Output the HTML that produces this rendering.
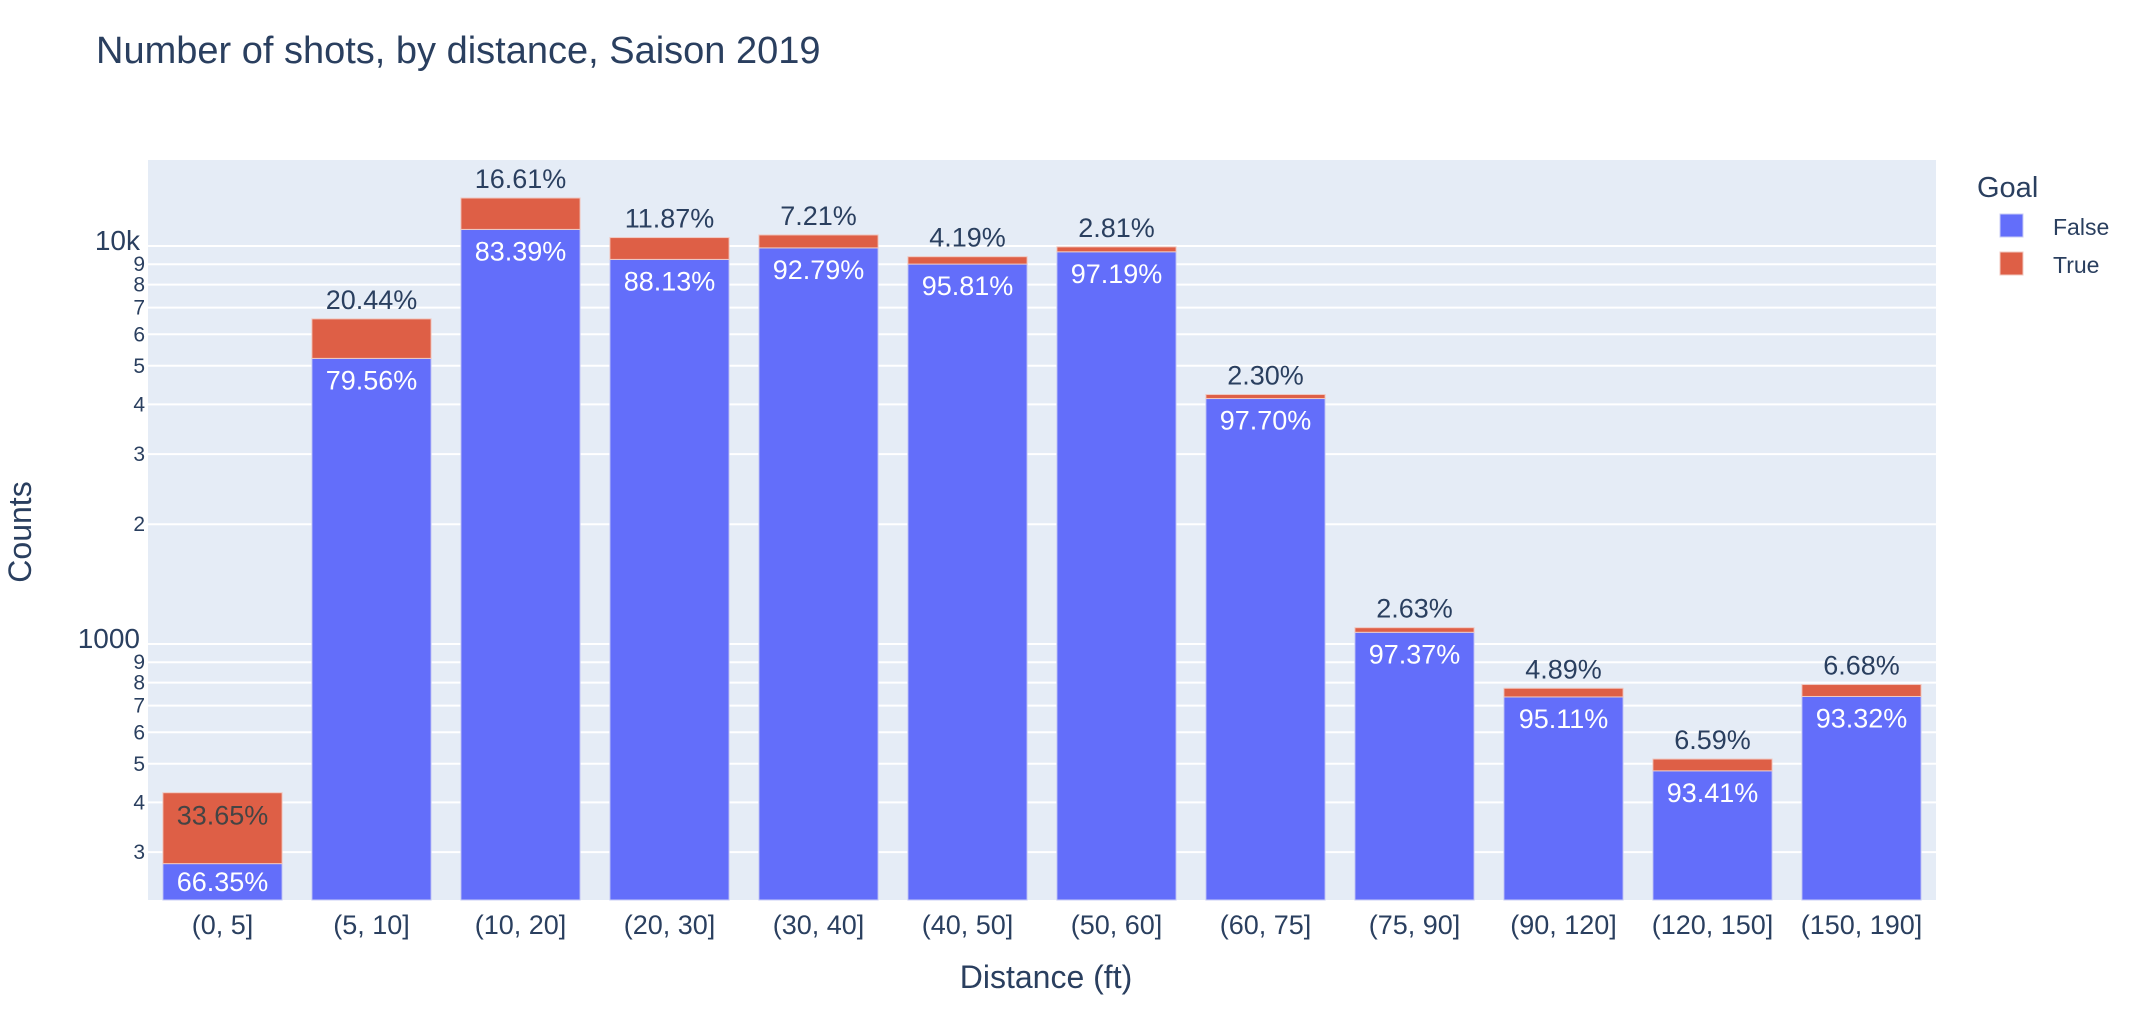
<!DOCTYPE html>
<html><head><meta charset="utf-8">
<style>
html,body{margin:0;padding:0;background:#fff;}
svg{display:block;font-family:"Liberation Sans","DejaVu Sans",sans-serif;}
</style></head>
<body>
<svg id="chart" width="2130" height="1016" xmlns="http://www.w3.org/2000/svg">
  <text x="96" y="63" font-size="38" fill="#2a3f5f">Number of shots, by distance, Saison 2019</text>
  <rect x="148" y="160" width="1788" height="740" fill="#e5ecf6"/>
  <g id="grid"></g>
  <g id="yticks"></g>
  <g id="bars"></g>
  <g id="xticks"></g>
  <text x="1046" y="988" font-size="32" fill="#2a3f5f" text-anchor="middle">Distance (ft)</text>
  <text transform="translate(31,532) rotate(-90)" font-size="32" fill="#2a3f5f" text-anchor="middle">Counts</text>
  <g>
    <text x="1977" y="197" font-size="29" fill="#2a3f5f">Goal</text>
    <g>
      <rect x="2000" y="214" width="23" height="23" fill="#636efa" stroke="#c8ccf5" stroke-width="1"/>
      <text x="2053" y="235" font-size="23" fill="#2a3f5f">False</text>
    </g>
    <g>
      <rect x="2000" y="252" width="23" height="23" fill="#de5f46" stroke="#f0c8c0" stroke-width="1"/>
      <text x="2053" y="273" font-size="23" fill="#2a3f5f">True</text>
    </g>
  </g>
</svg>
<script>
const categories = ["(0, 5]","(5, 10]","(10, 20]","(20, 30]","(30, 40]","(40, 50]","(50, 60]","(60, 75]","(75, 90]","(90, 120]","(120, 150]","(150, 190]"];
const totals = [423, 6560, 13200, 10500, 10660, 9400, 9950, 4235, 1099, 774, 514, 791];
const falsePct = [66.35, 79.56, 83.39, 88.13, 92.79, 95.81, 97.19, 97.70, 97.37, 95.11, 93.41, 93.32];
const truePct = [33.65, 20.44, 16.61, 11.87, 7.21, 4.19, 2.81, 2.30, 2.63, 4.89, 6.59, 6.68];
const yTickValues = [300,400,500,600,700,800,900,1000,2000,3000,4000,5000,6000,7000,8000,9000,10000];
const yTickLabels = ["3","4","5","6","7","8","9","1000","2","3","4","5","6","7","8","9","10k"];

const NS = "http://www.w3.org/2000/svg";
const PL = 148, PR = 1936, PT = 160, PB = 900;
const Y1000 = 644, DEC = 398;
function y(v){ return Y1000 - (Math.log10(v) - 3) * DEC; }
const band = (PR - PL) / categories.length;
function xc(i){ return PL + band * (i + 0.5); }
const bw = band * 0.8;

function mk(tag, attrs, parent){
  const e = document.createElementNS(NS, tag);
  for (const k in attrs) e.setAttribute(k, attrs[k]);
  parent.appendChild(e); return e;
}
const grid = document.getElementById('grid');
const yt = document.getElementById('yticks');
yTickValues.forEach((v, i) => {
  const yy = y(v);
  const l = mk('line', {x1: PL, x2: PR, y1: yy, y2: yy, stroke: '#fff', 'stroke-width': 2}, grid);
  
  
  const major = (yTickLabels[i].length > 1);
  const t = mk('text', {x: major ? PL - 8 : PL - 3, y: yy + (major ? 4 : 7), 'text-anchor': 'end', 'font-size': major ? 28 : 21, fill: '#2a3f5f'}, yt);
  t.textContent = yTickLabels[i];
  
  
});

const bars = document.getElementById('bars');
const xt = document.getElementById('xticks');
categories.forEach((c, i) => {
  const tot = totals[i];
  const fv = tot * falsePct[i] / 100;
  const x0 = xc(i) - bw / 2;
  const yb = PB, yf = y(fv), yt2 = y(tot);
  const fb = mk('rect', {x: x0, y: yf, width: bw, height: yb - yf, fill: '#636efa', stroke: '#c8ccf5', 'stroke-width': 1}, bars);
  
  
  const tb = mk('rect', {x: x0, y: yt2, width: bw, height: yf - yt2, fill: '#de5f46', stroke: '#f0c8c0', 'stroke-width': 1}, bars);
  
  
  const fl = mk('text', {x: xc(i), y: Math.min(yf + 31, PB - 9), 'text-anchor': 'middle', 'font-size': 27, fill: '#fff'}, bars);
  fl.textContent = falsePct[i].toFixed(2) + '%';
  
  
  const inside = (yf - yt2) > 40;
  const tl = mk('text', {x: xc(i), y: inside ? yt2 + 32 : yt2 - 10, 'text-anchor': 'middle', 'font-size': 27, fill: inside ? '#444' : '#2a3f5f'}, bars);
  tl.textContent = truePct[i].toFixed(2) + '%';
  
  
  const xl = mk('text', {x: xc(i), y: 934, 'text-anchor': 'middle', 'font-size': 27, fill: '#2a3f5f'}, xt);
  xl.textContent = c;
  
  
});
</script>
</body></html>
